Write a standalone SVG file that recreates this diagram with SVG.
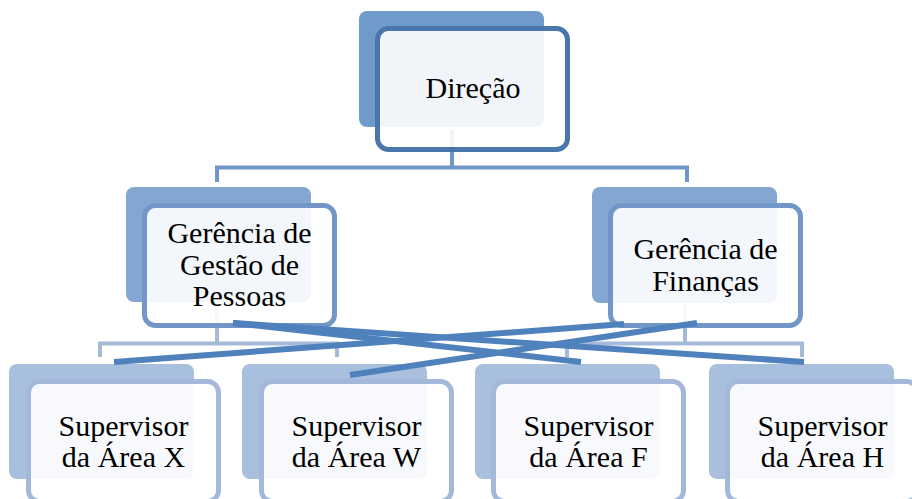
<svg xmlns="http://www.w3.org/2000/svg" width="912" height="499" viewBox="0 0 912 499">
<style>
.lbl{font-family:"Liberation Serif","Times New Roman",serif;font-size:30px;fill:#000;text-anchor:middle}
.front{fill:#fff;fill-opacity:0.9;stroke-width:5}
.b1{fill:#6f9bcb}.f1{stroke:#4a76ad}
.b2{fill:#84a7d1}.f2{stroke:#7396c8}
.b3{fill:#a8c0de}.f3{stroke:#a3b8da}
.c1{fill:none;stroke:#7196c8;stroke-width:4}
.c2{fill:none;stroke:#a5b9d9;stroke-width:4}
.x{stroke:#4f81bd;stroke-width:6;fill:none}
</style>
<g id="connectors">
<path class="c1" d="M452 130V167.5M217 182V167.5H687V182"/>
<path class="c2" d="M217 305V343.5M100 357V343.5H337V357"/>
<path class="c2" d="M685 305V343.5M567 357V343.5H802V357"/>
</g>
<g id="n-direcao">
<rect class="b1" x="359" y="11" width="185" height="116" rx="8"/>
<rect class="front f1" x="377.5" y="28.5" width="190" height="121" rx="11"/>
<text class="lbl" x="473" y="98">Direção</text>
</g>
<g id="n-gestao">
<rect class="b2" x="126" y="187" width="185" height="115" rx="8"/>
<rect class="front f2" x="144.5" y="205.5" width="190" height="120" rx="11"/>
<text class="lbl" x="239.5" y="243">Gerência de</text>
<text class="lbl" x="239.5" y="275">Gestão de</text>
<text class="lbl" x="239.5" y="306">Pessoas</text>
</g>
<g id="n-financas">
<rect class="b2" x="592" y="187" width="185" height="116" rx="8"/>
<rect class="front f2" x="610.5" y="205.5" width="190" height="120" rx="11"/>
<text class="lbl" x="705.5" y="259">Gerência de</text>
<text class="lbl" x="705.5" y="291">Finanças</text>
</g>
<g id="n-x">
<rect class="b3" x="9" y="364" width="185" height="115" rx="8"/>
<rect class="front f3" x="28.5" y="381.5" width="190" height="120" rx="11"/>
<text class="lbl" x="123.5" y="436">Supervisor</text>
<text class="lbl" x="123.5" y="467">da Área X</text>
</g>
<g id="n-w">
<rect class="b3" x="242" y="364" width="185" height="115" rx="8"/>
<rect class="front f3" x="261.5" y="381.5" width="190" height="120" rx="11"/>
<text class="lbl" x="356.5" y="436">Supervisor</text>
<text class="lbl" x="356.5" y="467">da Área W</text>
</g>
<g id="n-f">
<rect class="b3" x="475" y="364" width="185" height="115" rx="8"/>
<rect class="front f3" x="493.5" y="381.5" width="190" height="120" rx="11"/>
<text class="lbl" x="588.5" y="436">Supervisor</text>
<text class="lbl" x="588.5" y="467">da Área F</text>
</g>
<g id="n-h">
<rect class="b3" x="709" y="364" width="185" height="115" rx="8"/>
<rect class="front f3" x="727.5" y="381.5" width="190" height="120" rx="11"/>
<text class="lbl" x="822.5" y="436">Supervisor</text>
<text class="lbl" x="822.5" y="467">da Área H</text>
</g>
<g id="cross-lines">
<line class="x" x1="233" y1="323" x2="581" y2="362"/>
<line class="x" x1="233" y1="323" x2="804" y2="362"/>
<line class="x" x1="114" y1="362" x2="624" y2="324"/>
<line class="x" x1="350" y1="375" x2="697" y2="323"/>
</g>
</svg>
